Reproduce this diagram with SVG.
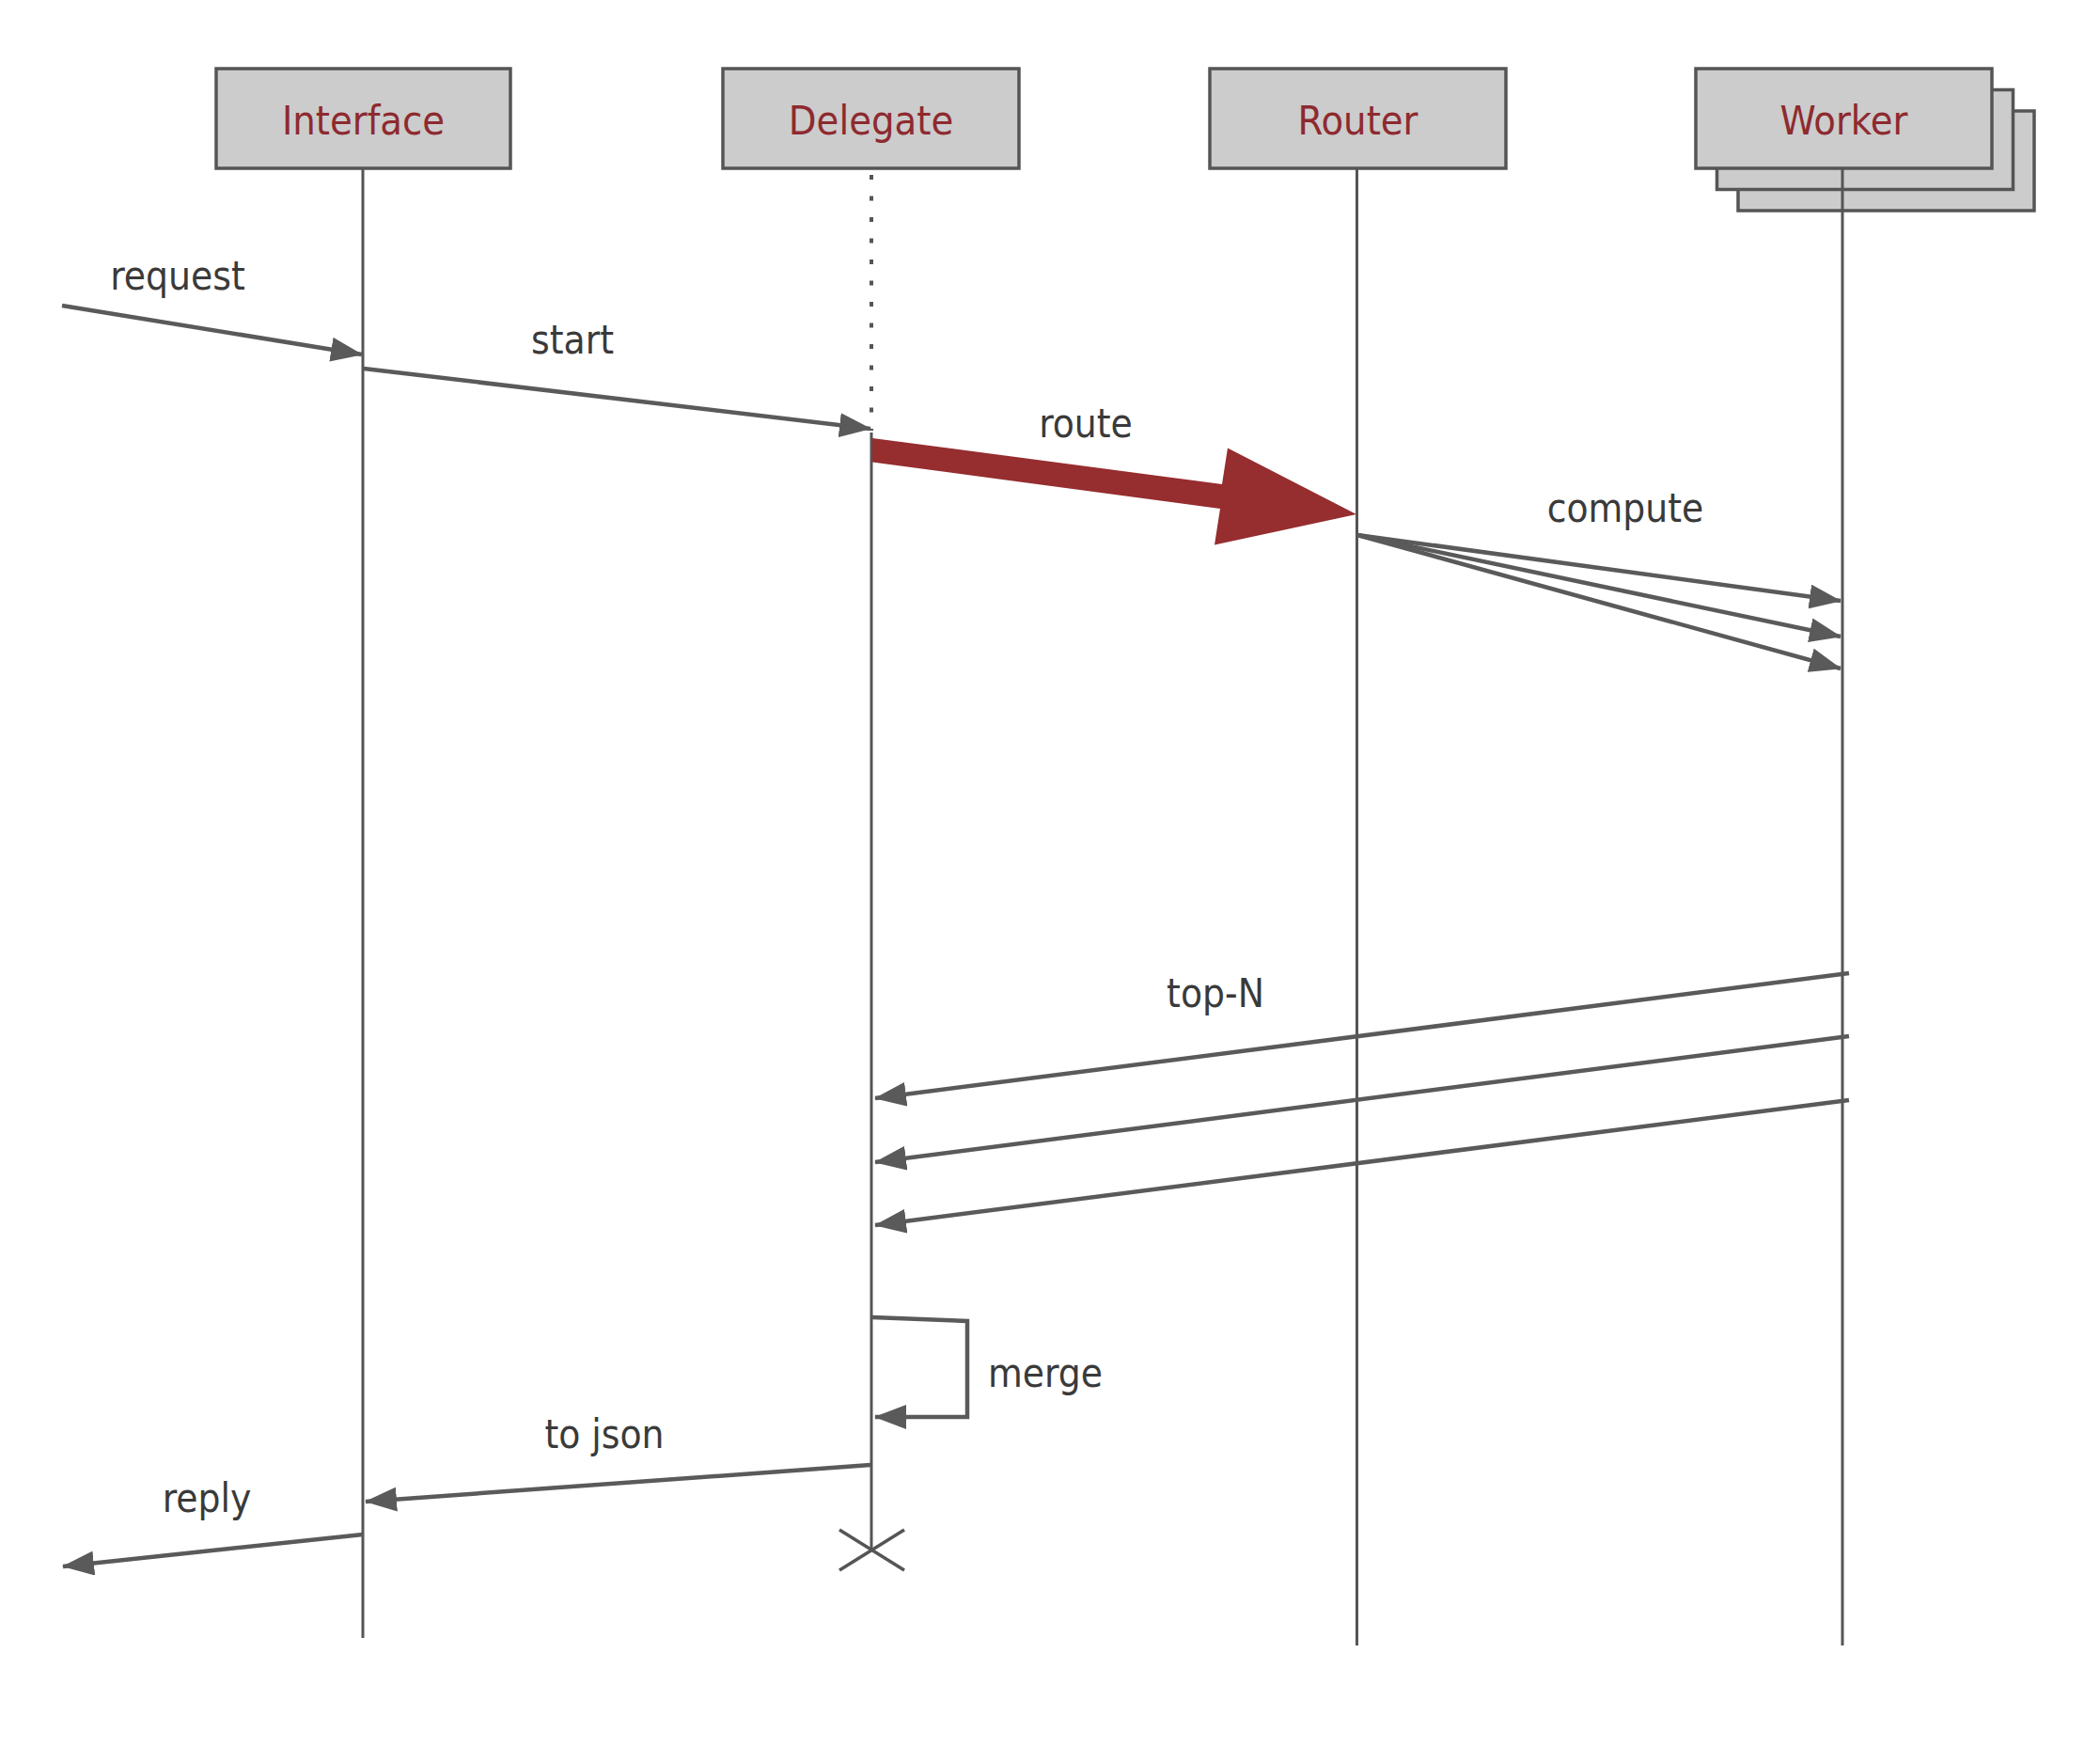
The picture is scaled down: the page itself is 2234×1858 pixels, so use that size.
<svg xmlns="http://www.w3.org/2000/svg" width="2234" height="1858" viewBox="0 0 2234 1858">
<style>
  .box { fill: #cccccc; stroke: #555555; stroke-width: 3.5; }
  .nlabel { font-family: "DejaVu Sans Condensed", "DejaVu Sans", sans-serif; font-size: 43px; fill: #8e2a2f; text-anchor: middle; }
  .mlabel { font-family: "DejaVu Sans Condensed", "DejaVu Sans", sans-serif; font-size: 42px; fill: #3a3a3a; text-anchor: middle; }
  .life { stroke: #555555; stroke-width: 3; fill: none; }
  .msg { stroke: #5a5a5a; stroke-width: 4.5; fill: none; marker-end: url(#arr); }
</style>
<defs>
  <marker id="arr" viewBox="0 0 34 26" refX="33" refY="13" markerWidth="34" markerHeight="26" markerUnits="userSpaceOnUse" orient="auto">
    <path d="M0,0 L34,13 L0,26 Z" fill="#5a5a5a"/>
  </marker>
</defs>
<rect width="2234" height="1858" fill="#ffffff"/>

<g id="lifelines">
  <line class="life" x1="386" y1="179" x2="386" y2="1742"/>
  <line x1="927" y1="186" x2="927" y2="458" stroke="#555555" stroke-width="4" stroke-dasharray="5 17.5"/>
  <line class="life" x1="927" y1="460" x2="927" y2="1648"/>
  <line class="life" x1="1443.5" y1="179" x2="1443.5" y2="1750"/>
</g>

<g id="node-interface">
  <rect class="box" x="230" y="73" width="313" height="106"/>
  <text class="nlabel" x="386.5" y="142.5">Interface</text>
</g>
<g id="node-delegate">
  <rect class="box" x="769" y="73" width="315" height="106"/>
  <text class="nlabel" x="926.5" y="142.5">Delegate</text>
</g>
<g id="node-router">
  <rect class="box" x="1287" y="73" width="315" height="106"/>
  <text class="nlabel" x="1444.5" y="142.5">Router</text>
</g>
<g id="node-worker">
  <rect class="box" x="1849" y="118" width="315" height="106"/>
  <rect class="box" x="1826.5" y="95.5" width="315" height="106"/>
  <rect class="box" x="1804" y="73" width="315" height="106"/>
  <text class="nlabel" x="1961.5" y="142.5">Worker</text>
  <line class="life" x1="1960" y1="179" x2="1960" y2="1750"/>
</g>

<g id="connectors">
  <line class="msg" x1="66" y1="325" x2="385" y2="377"/>
  <text class="mlabel" x="189" y="308">request</text>

  <line class="msg" x1="387" y1="392" x2="926" y2="456"/>
  <text class="mlabel" x="609" y="376">start</text>

  <polygon points="928,466 1300,515 1306,476.5 1443,547 1292,579.5 1298,541 928,491.5" fill="#962d2f"/>
  <text class="mlabel" x="1155" y="465">route</text>

  <line class="msg" x1="1444" y1="569" x2="1958" y2="639"/>
  <line class="msg" x1="1444" y1="569" x2="1958" y2="677"/>
  <line class="msg" x1="1444" y1="569" x2="1958" y2="711"/>
  <text class="mlabel" x="1729" y="555">compute</text>

  <line class="msg" x1="1967" y1="1035" x2="931" y2="1168"/>
  <line class="msg" x1="1967" y1="1102" x2="931" y2="1236"/>
  <line class="msg" x1="1967" y1="1170" x2="931" y2="1303"/>
  <text class="mlabel" x="1293" y="1071">top-N</text>

  <path class="msg" d="M928,1401 L1029,1405 L1029,1507 L931,1507"/>
  <text class="mlabel" x="1112" y="1475">merge</text>

  <line class="msg" x1="926" y1="1558" x2="389" y2="1597"/>
  <text class="mlabel" x="643" y="1540">to json</text>

  <line class="msg" x1="386" y1="1632" x2="67" y2="1666"/>
  <text class="mlabel" x="220" y="1608">reply</text>

  <g id="destroy" stroke="#555555" stroke-width="3.5">
    <line x1="893" y1="1627" x2="962" y2="1670"/>
    <line x1="893" y1="1670" x2="962" y2="1627"/>
  </g>
</g>
</svg>
